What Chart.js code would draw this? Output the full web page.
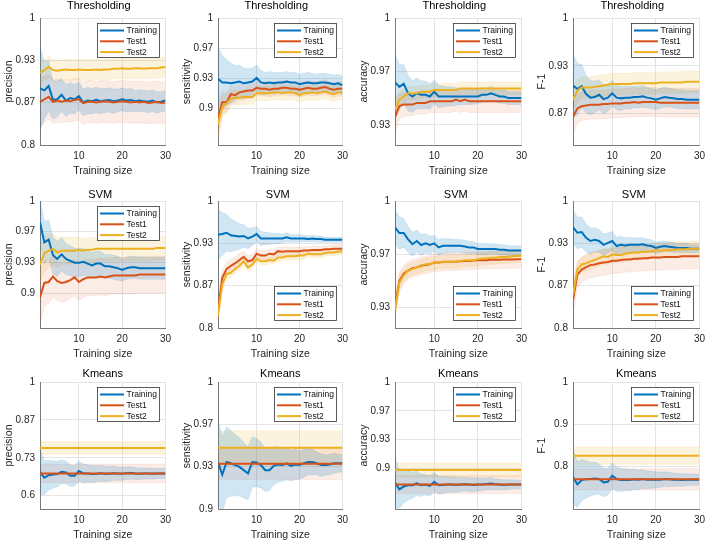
<!DOCTYPE html>
<html>
<head>
<meta charset="utf-8">
<script src="https://cdn.jsdelivr.net/npm/chart.js@4.4.1/dist/chart.umd.min.js"></script>
<style>
html,body{margin:0;padding:0;background:#fff;}
body{width:708px;height:542px;position:relative;overflow:hidden;}
canvas{position:absolute;}
</style>
</head>
<body>
<script>
// ---------------- data ----------------
const trainingSize = [1,2,3,4,5,6,7,8,9,10,11,12,13,14,15,16,17,18,19,20,21,22,23,24,25,26,27,28,29,30];
const rowTitles = ['Thresholding','SVM','Kmeans'];
const metricNames = ['precision','sensitivity','accuracy','F-1'];
const seriesNames = ['Training','Test1','Test2'];
const xTickValues = [10,20,30];

const yTicksA = [0.8,0.8667,0.9333,1];      const yTickLabelsA = ['0.8','0.87','0.93','1'];
const yTicksB = [0.9,0.9333,0.9667,1];      const yTickLabelsB = ['0.9','0.93','0.97','1'];
const yTicksC = [0.9333,0.9667,1];          const yTickLabelsC = ['0.93','0.97','1'];
const yTicksD = [0.8667,0.9333,1];          const yTickLabelsD = ['0.87','0.93','1'];
const yTicksE = [0.6,0.7333,0.8667,1];      const yTickLabelsE = ['0.6','0.73','0.87','1'];
const yTicksF = [0.8,0.9,1];                const yTickLabelsF = ['0.8','0.9','1'];

// Thresholding - precision
const thrPrecTrain   = [.889,.886,.893,.871,.872,.879,.870,.874,.872,.877,.867,.870,.869,.871,.869,.870,.871,.869,.870,.872,.870,.871,.869,.870,.869,.868,.870,.867,.868,.870];
const thrPrecTrainSd = [.066,.045,.040,.030,.028,.026,.025,.024,.023,.022,.021,.021,.020,.020,.020,.019,.019,.019,.018,.018,.018,.018,.017,.017,.017,.017,.017,.017,.016,.016];
const thrPrecTest1   = [.868,.872,.876,.868,.870,.868,.870,.869,.871,.872,.866,.868,.868,.867,.868,.869,.868,.867,.868,.869,.868,.867,.868,.867,.868,.866,.867,.868,.866,.867];
const thrPrecTest1Sd = [.039,.036,.035,.034,.034,.033,.033,.033,.033,.033,.033,.033,.033,.033,.033,.033,.033,.033,.033,.033,.033,.033,.033,.033,.033,.033,.033,.033,.033,.033];
const thrPrecTest2   = [.914,.918,.923,.918,.917,.918,.919,.918,.918,.919,.918,.918,.918,.919,.918,.919,.919,.920,.920,.921,.920,.920,.921,.921,.920,.921,.921,.921,.922,.923];
const thrPrecTest2Sd = [.018,.017,.017,.016,.016,.016,.016,.016,.016,.016,.016,.016,.016,.016,.016,.016,.016,.016,.016,.016,.016,.016,.016,.016,.016,.016,.016,.016,.016,.016];

// Thresholding - sensitivity
const thrSensTrain   = [.933,.929,.929,.928,.929,.930,.928,.929,.930,.934,.929,.928,.929,.928,.929,.929,.930,.929,.929,.927,.928,.929,.928,.928,.929,.929,.928,.927,.928,.926];
const thrSensTrainSd = [.035,.030,.025,.022,.019,.018,.017,.015,.015,.014,.013,.012,.012,.012,.011,.011,.011,.011,.011,.011,.011,.011,.011,.010,.010,.010,.010,.010,.010,.010];
const thrSensTest1   = [.889,.907,.907,.916,.915,.918,.919,.920,.920,.923,.922,.922,.921,.922,.922,.923,.923,.922,.922,.921,.922,.923,.922,.922,.923,.924,.922,.921,.922,.922];
const thrSensTest1Sd = [.018,.013,.011,.010,.009,.009,.009,.009,.009,.008,.008,.008,.008,.008,.008,.008,.008,.008,.008,.008,.008,.008,.008,.008,.008,.008,.008,.008,.008,.008];
const thrSensTest2   = [.883,.902,.906,.911,.912,.912,.913,.913,.913,.917,.917,.917,.917,.918,.918,.917,.918,.918,.917,.915,.917,.917,.918,.917,.918,.919,.917,.916,.918,.918];
const thrSensTest2Sd = [.018,.012,.010,.009,.008,.008,.008,.008,.008,.008,.008,.008,.008,.008,.008,.008,.008,.008,.008,.008,.008,.008,.008,.008,.008,.008,.008,.008,.008,.008];

// Thresholding - accuracy
const thrAccTrain    = [.960,.957,.959,.953,.951,.953,.952,.952,.951,.954,.951,.951,.951,.951,.951,.951,.951,.951,.951,.951,.952,.952,.953,.952,.951,.951,.950,.950,.950,.950];
const thrAccTrainSd  = [.017,.014,.012,.011,.010,.0095,.009,.0085,.008,.0075,.007,.0065,.006,.006,.0055,.005,.005,.005,.0048,.0046,.0045,.0045,.0044,.0043,.0042,.0042,.0041,.004,.004,.004];
const thrAccTest1    = [.938,.945,.946,.946,.946,.947,.947,.947,.948,.948,.948,.948,.948,.948,.949,.948,.949,.948,.948,.948,.948,.948,.948,.948,.948,.948,.948,.948,.948,.948];
const thrAccTest1Sd  = [.010,.008,.0075,.007,.007,.007,.007,.007,.007,.007,.007,.007,.007,.007,.007,.007,.007,.007,.007,.007,.007,.007,.007,.007,.007,.007,.007,.007,.007,.007];
const thrAccTest2    = [.943,.949,.951,.953,.953,.953,.954,.954,.954,.955,.955,.955,.955,.955,.955,.956,.956,.956,.956,.956,.956,.956,.956,.956,.956,.956,.956,.956,.956,.956];
const thrAccTest2Sd  = [.006,.005,.0045,.004,.004,.004,.004,.004,.004,.004,.004,.004,.004,.004,.004,.004,.004,.004,.004,.004,.004,.004,.004,.004,.004,.004,.004,.004,.004,.004];

// Thresholding - F-1
const thrF1Train     = [.906,.901,.905,.894,.889,.890,.893,.887,.889,.895,.889,.888,.889,.889,.890,.890,.891,.889,.888,.886,.888,.890,.889,.888,.887,.887,.886,.886,.886,.886];
const thrF1TrainSd   = [.045,.036,.030,.026,.024,.022,.021,.020,.019,.018,.017,.017,.016,.016,.015,.015,.015,.014,.014,.014,.014,.014,.013,.013,.013,.013,.013,.013,.013,.013];
const thrF1Test1     = [.862,.874,.877,.878,.879,.879,.879,.880,.880,.881,.881,.881,.882,.882,.883,.882,.883,.883,.883,.883,.882,.882,.882,.882,.882,.882,.882,.882,.882,.882];
const thrF1Test1Sd   = [.024,.021,.020,.020,.020,.020,.020,.020,.020,.020,.020,.020,.020,.020,.020,.020,.020,.020,.020,.020,.020,.020,.020,.020,.020,.020,.020,.020,.020,.020];
const thrF1Test2     = [.886,.899,.903,.903,.903,.904,.905,.906,.907,.908,.908,.908,.908,.908,.909,.909,.909,.909,.909,.909,.910,.910,.910,.910,.910,.910,.911,.911,.911,.911];
const thrF1Test2Sd   = [.017,.016,.015,.015,.015,.015,.015,.015,.015,.015,.015,.015,.015,.015,.015,.015,.015,.015,.015,.015,.015,.015,.015,.015,.015,.015,.015,.015,.015,.015];

// SVM - precision
const svmPrecTrain   = [.977,.955,.958,.941,.937,.942,.937,.935,.933,.933,.934,.932,.930,.932,.932,.929,.929,.928,.927,.925,.927,.928,.928,.927,.927,.927,.927,.927,.927,.927];
const svmPrecTrainSd = [.025,.023,.021,.020,.019,.018,.017,.016,.016,.015,.015,.014,.014,.014,.013,.013,.013,.013,.013,.012,.012,.012,.012,.012,.012,.012,.012,.012,.012,.012];
const svmPrecTest1   = [.895,.911,.912,.918,.913,.911,.912,.914,.917,.912,.915,.917,.917,.917,.918,.917,.918,.919,.919,.919,.919,.919,.919,.920,.920,.920,.920,.920,.920,.920];
const svmPrecTest1Sd = [.030,.025,.023,.022,.021,.021,.021,.020,.020,.020,.020,.020,.020,.020,.020,.020,.020,.020,.020,.020,.020,.020,.020,.020,.020,.020,.020,.020,.020,.020];
const svmPrecTest2   = [.931,.943,.946,.948,.944,.946,.946,.946,.946,.947,.946,.947,.947,.948,.948,.948,.948,.948,.948,.948,.948,.948,.948,.948,.948,.948,.948,.949,.949,.949];
const svmPrecTest2Sd = [.020,.019,.018,.017,.016,.015,.015,.014,.014,.014,.013,.013,.013,.013,.013,.013,.013,.013,.013,.013,.013,.013,.013,.013,.013,.013,.013,.013,.013,.013];

// SVM - sensitivity
const svmSensTrain   = [.947,.948,.950,.946,.945,.944,.945,.941,.944,.948,.941,.941,.941,.941,.941,.941,.943,.941,.941,.941,.941,.940,.941,.940,.940,.939,.939,.939,.939,.939];
const svmSensTrainSd = [.040,.034,.029,.026,.023,.020,.018,.016,.014,.012,.011,.010,.009,.008,.008,.007,.007,.006,.006,.006,.005,.005,.005,.005,.005,.004,.004,.004,.004,.004];
const svmSensTest1   = [.828,.879,.893,.898,.902,.907,.912,.905,.907,.917,.914,.914,.917,.916,.921,.920,.921,.921,.921,.921,.922,.922,.923,.923,.923,.924,.924,.925,.925,.925];
const svmSensTest1Sd = [.015,.012,.011,.010,.010,.010,.009,.009,.009,.008,.008,.008,.007,.007,.007,.007,.007,.007,.006,.006,.006,.006,.006,.006,.006,.006,.006,.006,.006,.006];
const svmSensTest2   = [.820,.869,.885,.887,.893,.898,.905,.895,.900,.909,.905,.905,.907,.906,.911,.911,.913,.913,.913,.914,.914,.917,.916,.916,.916,.918,.919,.919,.920,.921];
const svmSensTest2Sd = [.012,.009,.008,.008,.007,.007,.007,.007,.006,.006,.006,.006,.006,.006,.006,.006,.006,.006,.006,.006,.005,.005,.005,.005,.005,.005,.005,.005,.005,.005];

// SVM - accuracy
const svmAccTrain    = [.9835,.980,.980,.976,.973,.975,.9725,.9735,.9725,.9735,.971,.972,.972,.972,.972,.972,.9715,.971,.971,.970,.970,.970,.970,.970,.9695,.9695,.969,.969,.969,.969];
const svmAccTrainSd  = [.011,.010,.009,.008,.0075,.007,.0065,.006,.0055,.005,.005,.0045,.0045,.0042,.004,.004,.004,.0038,.0036,.0035,.0035,.0034,.0033,.0032,.0032,.0031,.003,.003,.003,.003];
const svmAccTest1    = [.934,.950,.9545,.9565,.958,.9585,.9595,.960,.9605,.9615,.9615,.9618,.962,.962,.962,.9623,.9625,.9625,.9628,.963,.963,.963,.9633,.9633,.9633,.9635,.9635,.9635,.9636,.9636];
const svmAccTest1Sd  = [.007,.006,.0055,.0055,.0055,.0055,.0055,.0055,.0055,.0055,.0055,.0055,.0055,.0055,.0055,.0055,.0055,.0055,.0055,.0055,.0055,.0055,.0055,.0055,.0055,.0055,.0055,.0055,.0055,.0055];
const svmAccTest2    = [.932,.949,.9535,.9565,.9575,.9585,.959,.9605,.9605,.9615,.9615,.962,.962,.962,.962,.9625,.963,.963,.963,.9636,.964,.964,.9645,.9645,.965,.965,.9652,.9654,.9656,.9657];
const svmAccTest2Sd  = [.006,.005,.0045,.004,.004,.004,.004,.004,.004,.004,.004,.004,.004,.004,.004,.004,.004,.004,.004,.004,.004,.004,.004,.004,.004,.004,.004,.004,.004,.004];

// SVM - F-1
const svmF1Train     = [.959,.950,.951,.942,.937,.939,.937,.931,.934,.937,.929,.931,.930,.931,.931,.931,.932,.930,.929,.926,.928,.929,.928,.927,.926,.926,.926,.925,.925,.925];
const svmF1TrainSd   = [.027,.025,.024,.022,.021,.019,.018,.017,.016,.015,.014,.013,.012,.012,.011,.011,.010,.010,.010,.009,.009,.008,.008,.008,.007,.007,.007,.006,.006,.006];
const svmF1Test1     = [.844,.884,.892,.896,.899,.900,.902,.903,.904,.906,.906,.907,.908,.908,.909,.909,.910,.910,.911,.911,.911,.912,.912,.912,.912,.913,.913,.913,.913,.913];
const svmF1Test1Sd   = [.025,.020,.020,.020,.020,.020,.020,.020,.020,.020,.020,.020,.020,.020,.020,.020,.020,.020,.020,.020,.020,.020,.020,.020,.020,.020,.020,.020,.020,.020];
const svmF1Test2     = [.852,.892,.900,.902,.905,.907,.910,.913,.912,.916,.915,.915,.917,.918,.919,.919,.920,.920,.921,.922,.922,.922,.923,.923,.924,.924,.924,.925,.925,.925];
const svmF1Test2Sd   = [.014,.013,.012,.012,.012,.012,.012,.012,.012,.012,.012,.012,.012,.012,.012,.012,.012,.012,.012,.012,.012,.012,.012,.012,.012,.012,.012,.012,.012,.012];

// Kmeans - precision
const kmPrecTrain    = [.684,.663,.672,.674,.676,.684,.682,.670,.670,.687,.678,.678,.676,.677,.679,.677,.677,.679,.678,.677,.679,.680,.678,.677,.678,.678,.677,.678,.678,.678];
const kmPrecTrainSd  = [.080,.060,.052,.048,.045,.042,.040,.038,.036,.035,.033,.031,.030,.029,.028,.027,.026,.025,.024,.023,.022,.022,.021,.020,.020,.019,.019,.018,.018,.018];
const kmPrecTest1    = [.678,.678,.678,.678,.678,.678,.678,.678,.678,.678,.678,.678,.678,.678,.678,.678,.678,.678,.678,.678,.678,.678,.678,.678,.678,.678,.678,.678,.678,.678];
const kmPrecTest1Sd  = [.033,.033,.033,.033,.033,.033,.033,.033,.033,.033,.033,.033,.033,.033,.033,.033,.033,.033,.033,.033,.033,.033,.033,.033,.033,.033,.033,.033,.033,.033];
const kmPrecTest2    = [.768,.768,.768,.768,.768,.768,.768,.768,.768,.768,.768,.768,.768,.768,.768,.768,.768,.768,.768,.768,.768,.768,.768,.768,.768,.768,.768,.768,.768,.768];
const kmPrecTest2Sd  = [.022,.022,.022,.022,.022,.022,.022,.022,.022,.022,.022,.022,.022,.022,.022,.022,.022,.022,.022,.022,.022,.022,.022,.022,.022,.022,.022,.022,.022,.022];

// Kmeans - sensitivity
const kmSensTrain    = [.937,.927,.937,.936,.9346,.9332,.9306,.928,.937,.9366,.9346,.9306,.9306,.934,.935,.9346,.936,.934,.935,.9346,.936,.937,.937,.936,.9346,.9346,.935,.936,.936,.936];
const kmSensTrainSd  = [.033,.030,.028,.026,.024,.023,.022,.021,.020,.019,.018,.017,.016,.015,.014,.013,.013,.012,.012,.011,.011,.010,.010,.009,.009,.008,.008,.008,.007,.007];
const kmSensTest1    = [.9356,.9356,.9356,.9356,.9356,.9356,.9356,.9356,.9356,.9356,.9356,.9356,.9356,.9356,.9356,.9356,.9356,.9356,.9356,.9356,.9356,.9356,.9356,.9356,.9356,.9356,.9356,.9356,.9356,.9356];
const kmSensTest1Sd  = [.0124,.0124,.0124,.0124,.0124,.0124,.0124,.0124,.0124,.0124,.0124,.0124,.0124,.0124,.0124,.0124,.0124,.0124,.0124,.0124,.0124,.0124,.0124,.0124,.0124,.0124,.0124,.0124,.0124,.0124];
const kmSensTest2    = [.9482,.9482,.9482,.9482,.9482,.9482,.9482,.9482,.9482,.9482,.9482,.9482,.9482,.9482,.9482,.9482,.9482,.9482,.9482,.9482,.9482,.9482,.9482,.9482,.9482,.9482,.9482,.9482,.9482,.9482];
const kmSensTest2Sd  = [.0133,.0133,.0133,.0133,.0133,.0133,.0133,.0133,.0133,.0133,.0133,.0133,.0133,.0133,.0133,.0133,.0133,.0133,.0133,.0133,.0133,.0133,.0133,.0133,.0133,.0133,.0133,.0133,.0133,.0133];

// Kmeans - accuracy
const kmAccTrain     = [.8836,.8758,.879,.8805,.8805,.8828,.8805,.8813,.8797,.8844,.8805,.8809,.8813,.8813,.8809,.8813,.8817,.8813,.8809,.8813,.8813,.882,.8824,.8817,.8813,.8809,.8813,.8813,.8813,.8813];
const kmAccTrainSd   = [.029,.022,.019,.017,.015,.014,.013,.012,.012,.011,.010,.010,.009,.009,.009,.008,.008,.008,.008,.0075,.007,.007,.007,.006,.006,.006,.0055,.0055,.005,.005];
const kmAccTest1     = [.8813,.8813,.8813,.8813,.8813,.8813,.8813,.8813,.8813,.8813,.8813,.8813,.8813,.8813,.8813,.8813,.8813,.8813,.8813,.8813,.8813,.8813,.8813,.8813,.8813,.8813,.8813,.8813,.8813,.8813];
const kmAccTest1Sd   = [.0105,.0105,.0105,.0105,.0105,.0105,.0105,.0105,.0105,.0105,.0105,.0105,.0105,.0105,.0105,.0105,.0105,.0105,.0105,.0105,.0105,.0105,.0105,.0105,.0105,.0105,.0105,.0105,.0105,.0105];
const kmAccTest2     = [.898,.898,.898,.898,.898,.898,.898,.898,.898,.898,.898,.898,.898,.898,.898,.898,.898,.898,.898,.898,.898,.898,.898,.898,.898,.898,.898,.898,.898,.898];
const kmAccTest2Sd   = [.0082,.0082,.0082,.0082,.0082,.0082,.0082,.0082,.0082,.0082,.0082,.0082,.0082,.0082,.0082,.0082,.0082,.0082,.0082,.0082,.0082,.0082,.0082,.0082,.0082,.0082,.0082,.0082,.0082,.0082];

// Kmeans - F-1
const kmF1Train      = [.7763,.758,.7684,.770,.7707,.7723,.7707,.7628,.7644,.7787,.7707,.7684,.7692,.7684,.770,.7692,.7707,.7692,.7692,.7692,.7692,.7707,.770,.7692,.7692,.7684,.7692,.7692,.7692,.7692];
const kmF1TrainSd    = [.065,.054,.049,.044,.040,.038,.036,.034,.032,.030,.029,.027,.026,.025,.024,.023,.022,.021,.020,.019,.018,.017,.017,.016,.015,.015,.014,.014,.013,.013];
const kmF1Test1      = [.770,.770,.770,.770,.770,.770,.770,.770,.770,.770,.770,.770,.770,.770,.770,.770,.770,.770,.770,.770,.770,.770,.770,.770,.770,.770,.770,.770,.770,.770];
const kmF1Test1Sd    = [.025,.025,.025,.025,.025,.025,.025,.025,.025,.025,.025,.025,.025,.025,.025,.025,.025,.025,.025,.025,.025,.025,.025,.025,.025,.025,.025,.025,.025,.025];
const kmF1Test2      = [.826,.826,.826,.826,.826,.826,.826,.826,.826,.826,.826,.826,.826,.826,.826,.826,.826,.826,.826,.826,.826,.826,.826,.826,.826,.826,.826,.826,.826,.826];
const kmF1Test2Sd    = [.0205,.0205,.0205,.0205,.0205,.0205,.0205,.0205,.0205,.0205,.0205,.0205,.0205,.0205,.0205,.0205,.0205,.0205,.0205,.0205,.0205,.0205,.0205,.0205,.0205,.0205,.0205,.0205,.0205,.0205];

// ---------------- panels ----------------
const panels = [
  {row:0,col:0,metric:0,yMin:0.8,  yMax:1,ticks:yTicksA,labels:yTickLabelsA,legend:'top',
   series:[[thrPrecTrain,thrPrecTrainSd],[thrPrecTest1,thrPrecTest1Sd],[thrPrecTest2,thrPrecTest2Sd]]},
  {row:0,col:1,metric:1,yMin:0.86, yMax:1,ticks:yTicksB,labels:yTickLabelsB,legend:'top',
   series:[[thrSensTrain,thrSensTrainSd],[thrSensTest1,thrSensTest1Sd],[thrSensTest2,thrSensTest2Sd]]},
  {row:0,col:2,metric:2,yMin:0.9207,yMax:1,ticks:yTicksC,labels:yTickLabelsC,legend:'top',
   series:[[thrAccTrain,thrAccTrainSd],[thrAccTest1,thrAccTest1Sd],[thrAccTest2,thrAccTest2Sd]]},
  {row:0,col:3,metric:3,yMin:0.823,yMax:1,ticks:yTicksD,labels:yTickLabelsD,legend:'top',
   series:[[thrF1Train,thrF1TrainSd],[thrF1Test1,thrF1Test1Sd],[thrF1Test2,thrF1Test2Sd]]},
  {row:1,col:0,metric:0,yMin:0.862,yMax:1,ticks:yTicksB,labels:yTickLabelsB,legend:'top',
   series:[[svmPrecTrain,svmPrecTrainSd],[svmPrecTest1,svmPrecTest1Sd],[svmPrecTest2,svmPrecTest2Sd]]},
  {row:1,col:1,metric:1,yMin:0.8,  yMax:1,ticks:yTicksA,labels:yTickLabelsA,legend:'bottom',
   series:[[svmSensTrain,svmSensTrainSd],[svmSensTest1,svmSensTest1Sd],[svmSensTest2,svmSensTest2Sd]]},
  {row:1,col:2,metric:2,yMin:0.9206,yMax:1,ticks:yTicksC,labels:yTickLabelsC,legend:'bottom',
   series:[[svmAccTrain,svmAccTrainSd],[svmAccTest1,svmAccTest1Sd],[svmAccTest2,svmAccTest2Sd]]},
  {row:1,col:3,metric:3,yMin:0.8,  yMax:1,ticks:yTicksA,labels:yTickLabelsA,legend:'bottom',
   series:[[svmF1Train,svmF1TrainSd],[svmF1Test1,svmF1Test1Sd],[svmF1Test2,svmF1Test2Sd]]},
  {row:2,col:0,metric:0,yMin:0.553,yMax:1,ticks:yTicksE,labels:yTickLabelsE,legend:'top',
   series:[[kmPrecTrain,kmPrecTrainSd],[kmPrecTest1,kmPrecTest1Sd],[kmPrecTest2,kmPrecTest2Sd]]},
  {row:2,col:1,metric:1,yMin:0.9,  yMax:1,ticks:yTicksB,labels:yTickLabelsB,legend:'top',
   series:[[kmSensTrain,kmSensTrainSd],[kmSensTest1,kmSensTest1Sd],[kmSensTest2,kmSensTest2Sd]]},
  {row:2,col:2,metric:2,yMin:0.853,yMax:1,ticks:yTicksB,labels:yTickLabelsB,legend:'top',
   series:[[kmAccTrain,kmAccTrainSd],[kmAccTest1,kmAccTest1Sd],[kmAccTest2,kmAccTest2Sd]]},
  {row:2,col:3,metric:3,yMin:0.7,  yMax:1,ticks:yTicksF,labels:yTickLabelsF,legend:'top',
   series:[[kmF1Train,kmF1TrainSd],[kmF1Test1,kmF1Test1Sd],[kmF1Test2,kmF1Test2Sd]]}
];

// ---------------- layout & style ----------------
const FONT = '"Liberation Sans", Arial, Helvetica, sans-serif';
const colLeft  = [40, 218, 395, 573];
const colRight = [166, 343, 522, 700];
const rowTop    = [18, 201, 382];
const rowBottom = [145, 328, 509];
const titleDy = [-12.5, -6.5, -8];
const titleDx = [-4, -2.5, 0];
const Y_W = 40, TOP = 18, X_H = 36, RIGHT = 10;
const lineColors = ['#0072BD', '#D95319', '#EDB120'];
const bandColors = ['rgba(0,114,189,0.18)', 'rgba(217,83,25,0.11)', 'rgba(237,177,32,0.15)'];
const bandEdges  = ['rgba(0,114,189,0.18)', 'rgba(217,83,25,0.14)', 'rgba(237,177,32,0.2)'];

const panelDecor = {
  id: 'panelDecor',
  afterDraw(chart, args, opts) {
    const ctx = chart.ctx, a = chart.chartArea;
    ctx.save();
    ctx.fillStyle = '#000';
    ctx.font = '11px ' + FONT;
    ctx.textAlign = 'center';
    ctx.textBaseline = 'middle';
    ctx.fillText(opts.title, (a.left + a.right) / 2 + opts.dx, a.top + opts.dy);
    // legend box
    const items = chart.data.datasets.filter(d => d.isMean);
    const bw = 62, bh = 34;
    const bx = Math.round(a.right - 6 - bw);
    const by = Math.round(opts.legend === 'top' ? a.top + 5 : a.bottom - 8 - bh);
    ctx.fillStyle = '#fff';
    ctx.fillRect(bx, by, bw, bh);
    ctx.strokeStyle = '#333';
    ctx.lineWidth = 0.8;
    ctx.strokeRect(bx + 0.5, by + 0.5, bw, bh);
    ctx.font = '8.5px ' + FONT;
    ctx.textAlign = 'left';
    items.forEach((d, i) => {
      const y = by + 7.5 + i * 10.8;
      ctx.strokeStyle = d.borderColor;
      ctx.lineWidth = 2;
      ctx.beginPath(); ctx.moveTo(bx + 3, y); ctx.lineTo(bx + 27, y); ctx.stroke();
      ctx.fillStyle = '#111';
      ctx.fillText(d.label, bx + 29.5, y + 0.5);
    });
    ctx.restore();
  }
};

function bound(mean, sd, sign) { return mean.map((m, i) => m + sign * sd[i]); }

panels.forEach(p => {
  const L = colLeft[p.col], R = colRight[p.col], T = rowTop[p.row], B = rowBottom[p.row];
  const W = (R - L) + Y_W + RIGHT, H = (B - T) + TOP + X_H;
  const c = document.createElement('canvas');
  c.width = W; c.height = H;
  c.style.left = (L - Y_W) + 'px'; c.style.top = (T - TOP) + 'px';
  c.style.width = W + 'px'; c.style.height = H + 'px';
  document.body.appendChild(c);

  const datasets = [];
  p.series.forEach((s, k) => {
    const [mean, sd] = s;
    datasets.push({label: seriesNames[k] + ' lower', data: bound(mean, sd, -1), borderColor: bandEdges[k], borderWidth: 0.6,
      pointRadius: 0, fill: false, order: 20, tension: 0});
    datasets.push({label: seriesNames[k] + ' upper', data: bound(mean, sd, 1), borderColor: bandEdges[k], borderWidth: 0.6,
      backgroundColor: bandColors[k], pointRadius: 0, fill: '-1', order: 20, tension: 0});
  });
  p.series.forEach((s, k) => {
    datasets.push({label: seriesNames[k], isMean: true, data: s[0], borderColor: lineColors[k], borderWidth: 2,
      pointRadius: 0, fill: false, order: 3 - k, tension: 0});
  });

  new Chart(c, {
    type: 'line',
    data: {labels: trainingSize, datasets},
    plugins: [panelDecor],
    options: {
      responsive: false, animation: false, devicePixelRatio: 1,
      layout: {padding: {left: 0, top: TOP, right: RIGHT, bottom: 0}},
      plugins: {
        legend: {display: false}, tooltip: {enabled: false}, title: {display: false},
        panelDecor: {title: rowTitles[p.row], legend: p.legend, dx: titleDx[p.row], dy: titleDy[p.row]}
      },
      scales: {
        x: {
          type: 'linear', min: 1, max: 30,
          afterBuildTicks: s => { s.ticks = xTickValues.map(v => ({value: v})); },
          afterFit: s => { s.height = X_H; },
          ticks: {autoSkip: false, maxRotation: 0, padding: 5, color: '#262626', font: {size: 10, family: FONT},
                  callback: v => String(v)},
          grid: {color: '#e4e4e4', drawTicks: false, lineWidth: 1},
          border: {display: true, color: '#7a7a7a', width: 1},
          title: {display: true, text: 'Training size', color: '#262626', font: {size: 10.5, family: FONT},
                  padding: {top: 0, bottom: 4}}
        },
        y: {
          type: 'linear', min: p.yMin, max: p.yMax,
          afterBuildTicks: s => { s.ticks = p.ticks.map(v => ({value: v})); },
          afterFit: s => { s.width = Y_W; },
          ticks: {autoSkip: false, padding: 5, color: '#262626', font: {size: 10, family: FONT},
                  callback: (v, i) => p.labels[i]},
          grid: {color: '#e4e4e4', drawTicks: false, lineWidth: 1},
          border: {display: true, color: '#7a7a7a', width: 1},
          title: {display: true, text: metricNames[p.metric], color: '#262626', font: {size: 10.5, family: FONT},
                  padding: {top: 2.5, bottom: 0}}
        }
      }
    }
  });
});
</script>
</body>
</html>
